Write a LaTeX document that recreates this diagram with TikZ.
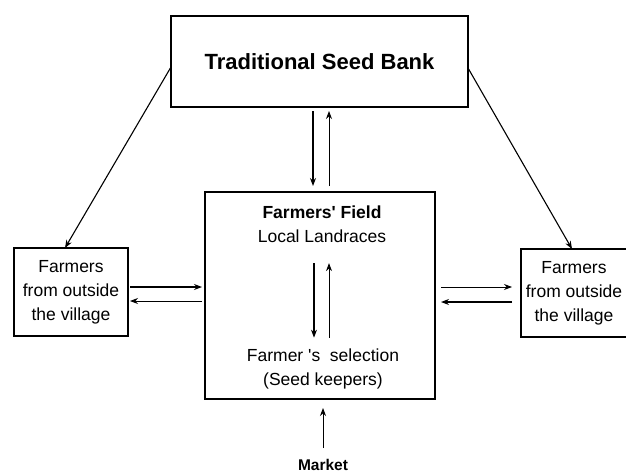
\documentclass[tikz,border=0pt]{standalone}
\usepackage{fontspec}
\setmainfont{Liberation Sans}
\usetikzlibrary{arrows.meta,calc}
\begin{document}
\begin{tikzpicture}[x=1pt,y=-1pt,
  box/.style={draw,line width=1.4pt,inner sep=0pt,outer sep=0pt},
  arr/.style={line width=1.1pt,-{Stealth[length=8pt,width=6pt]}},
  lbl/.style={font=\fontsize{17.5}{24}\selectfont,align=center,inner sep=0pt},
  fiveline/.style={font=\fontsize{17.5}{24}\selectfont,align=center}]
\useasboundingbox (0,0) rectangle (626,474);
% boxes
\node[box,minimum width=297pt,minimum height=91pt,
      font=\bfseries\fontsize{22}{26}\selectfont] (T) at (319.5,61.5) {Traditional Seed Bank};
\node[box,minimum width=230pt,minimum height=207pt] (M) at (320,295.5) {};
\node[box,minimum width=114pt,minimum height=88pt,fiveline] (L) at (71,292)
  {Farmers\\from outside\\the village};
\node[box,minimum width=106pt,minimum height=88pt,fiveline] (R) at (574,293)
  {Farmers\\from outside\\the village};
% texts inside middle box
\node[lbl] (F) at (322,224.5) {\textbf{Farmers\textquotesingle{} Field}\\Local Landraces};
\node[lbl] (S) at (323,369) {Farmer \textquotesingle s\ \ selection\\(Seed keepers)};
\node[inner sep=0pt,font=\bfseries\fontsize{15.5}{18}\selectfont] (Mk) at (323,465) {Market};
% top box <-> middle box
\draw[arr,shorten <=4pt,shorten >=6pt] ([xshift=-6.5pt]T.south) -- ([xshift=-7pt]M.north);
\draw[arr,line width=0.9pt,shorten <=6pt,shorten >=4pt] ([xshift=9pt]M.north) -- ([xshift=9.5pt]T.south);
% inner arrows
\draw[arr,shorten <=20pt,shorten >=11pt] ([xshift=-8pt]F.south) -- ([xshift=-9pt]S.north);
\draw[arr,line width=0.9pt,shorten <=11pt,shorten >=20pt] ([xshift=6pt]S.north) -- ([xshift=7pt]F.south);
% left box <-> middle box
\draw[arr,shorten <=2pt,shorten >=3pt] ([yshift=5pt]L.east) -- ([yshift=5pt]L.east -| M.west);
\draw[arr,line width=0.9pt,shorten <=3pt,shorten >=2pt] ([yshift=-9pt]L.east -| M.west) -- ([yshift=-9pt]L.east);
% middle box <-> right box
\draw[arr,line width=0.9pt,shorten <=6pt,shorten >=9pt] ([yshift=6pt]R.west -| M.east) -- ([yshift=6pt]R.west);
\draw[arr,shorten <=9pt,shorten >=6pt] ([yshift=-9pt]R.west) -- ([yshift=-9pt]R.west -| M.east);
% diagonals
\draw[arr] ([yshift=-5.5pt]T.west) -- ([xshift=-6pt]L.north);
\draw[arr] ([yshift=-6.5pt]T.east) -- ([xshift=-2pt]R.north);
% market
\draw[arr,line width=0.9pt,shorten <=11pt,shorten >=9pt] (Mk.north) -- ([xshift=3pt]M.south);
\end{tikzpicture}
\end{document}
